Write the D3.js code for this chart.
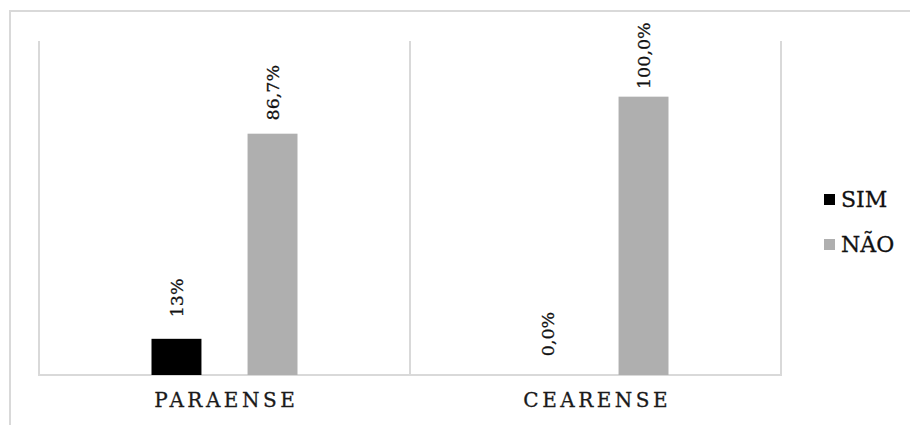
<!DOCTYPE html>
<html>
<head>
<meta charset="utf-8">
<script src="https://cdn.jsdelivr.net/npm/d3@7"></script>
<style>
  body { margin: 0; background: #fff; }
  text { font-family: "DejaVu Serif", serif; fill: #111; stroke: #111; stroke-width: 0.3px; }
</style>
</head>
<body>
<svg id="chart" width="910" height="425"></svg>
<script>
// data
var categories = ["PARAENSE", "CEARENSE"];
var series = ["SIM", "NÃO"];
var simValues = [13, 0];
var naoValues = [86.7, 100];
var simLabels = ["13%", "0,0%"];
var naoLabels = ["86,7%", "100,0%"];
var seriesColors = ["#000000", "#afafaf"];

var svg = d3.select("#chart"),
    width = +svg.attr("width"),
    height = +svg.attr("height"),
    gridColor = "#d9d9d9",
    spacing = 3.5;

// outer chart frame (runs off the right and bottom edges)
svg.append("rect")
  .attr("x", 10).attr("y", 11)
  .attr("width", 1000).attr("height", 600)
  .attr("fill", "none")
  .attr("stroke", gridColor)
  .attr("stroke-width", 2);

var x0 = d3.scaleBand().domain(categories).range([39, 781]);
var x1 = d3.scaleBand().domain(series).range([-73, 73]).paddingInner(0.48);
var y = d3.scaleLinear().domain([0, 120]).range([375, 41]);
var color = d3.scaleOrdinal().domain(series).range(seriesColors);

// rows: one object per category with both series
var rows = categories.map(function(c, i) {
  return {
    cat: c,
    bars: [
      {key: "SIM", value: simValues[i], label: simLabels[i]},
      {key: "NÃO", value: naoValues[i], label: naoLabels[i]}
    ]
  };
});

// vertical separators between categories
var seps = categories.map(d => x0(d)).concat([x0.range()[1]]);
svg.append("g")
  .selectAll("line")
  .data(seps)
  .enter().append("line")
  .attr("x1", d => d).attr("x2", d => d)
  .attr("y1", y.range()[1]).attr("y2", y(0))
  .attr("stroke", gridColor)
  .attr("stroke-width", 2);

// baseline
svg.append("line")
  .attr("x1", x0.range()[0] - 1).attr("x2", x0.range()[1] + 1)
  .attr("y1", y(0)).attr("y2", y(0))
  .attr("stroke", gridColor)
  .attr("stroke-width", 2);

var group = svg.append("g")
  .selectAll("g")
  .data(rows)
  .enter().append("g")
  .attr("transform", d => "translate(" + (x0(d.cat) + x0.bandwidth() / 2) + ",0)");

group.selectAll("rect")
  .data(d => d.bars)
  .enter().append("rect")
  .attr("x", d => x1(d.key))
  .attr("y", d => y(d.value))
  .attr("width", x1.bandwidth())
  .attr("height", d => y(0) - y(d.value))
  .attr("fill", d => color(d.key));

// rotated value labels
group.selectAll("text")
  .data(d => d.bars)
  .enter().append("text")
  .attr("transform", d => "translate(" + (x1(d.key) + x1.bandwidth() / 2) + "," + (y(d.value) - 41) + ") rotate(-90)")
  .attr("text-anchor", "middle")
  .attr("dy", "0.36em")
  .style("font-size", "17.5px")
  .text(d => d.label);

// category axis labels
var xAxis = d3.axisBottom(x0).tickSize(0).tickPadding(0);
var axisG = svg.append("g")
  .attr("transform", "translate(0," + y(0) + ")")
  .call(xAxis);
axisG.select(".domain").remove();
axisG.selectAll("text")
  .attr("y", 32)
  .attr("dy", 0)
  .attr("dx", spacing / 2)
  .style("font-family", "'DejaVu Serif', serif")
  .style("font-size", "20px")
  .style("letter-spacing", spacing + "px")
  .style("fill", "#1a1a1a")
  .style("stroke", "#1a1a1a")
  .style("stroke-width", "0.3px");

// legend
var legend = svg.append("g")
  .selectAll("g")
  .data(series)
  .enter().append("g")
  .attr("transform", (d, i) => "translate(824," + (194 + i * 45) + ")");

legend.append("rect")
  .attr("width", 11).attr("height", 11)
  .attr("fill", d => color(d));

legend.append("text")
  .attr("x", 17)
  .attr("y", 12.5)
  .style("font-size", "22px")
  .text(d => d);
</script>
</body>
</html>
